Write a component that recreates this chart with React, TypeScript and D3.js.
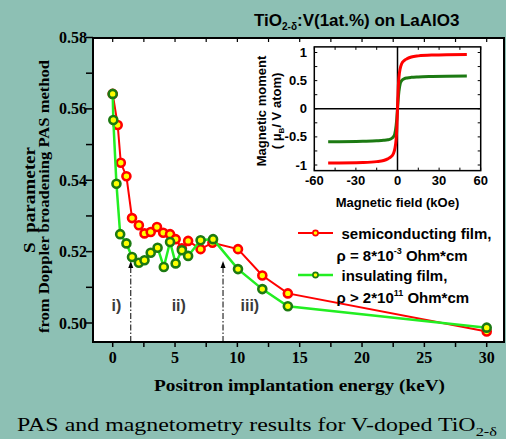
import React from 'react';
import * as d3 from 'd3';

// S parameter vs positron energy
const energySemi = [0, 0.4, 0.65, 1.1, 1.55, 2.1, 2.55, 3.05, 3.55, 4.05, 4.6, 5.05, 5.55, 6.05, 7.05, 8, 10.05, 12, 14.05, 30];
const sSemi = [0.5642, 0.5555, 0.5449, 0.5411, 0.5294, 0.5274, 0.5251, 0.5255, 0.5269, 0.5253, 0.5249, 0.5235, 0.5209, 0.523, 0.5207, 0.5225, 0.5207, 0.5133, 0.5083, 0.4976];
const energyIns = [0, 0.05, 0.3, 0.6, 1.1, 1.55, 2.1, 2.55, 3.05, 3.6, 4.1, 4.6, 5.05, 5.55, 6.05, 7.05, 8.05, 10.05, 12, 14.05, 30];
const sIns = [0.5642, 0.5569, 0.539, 0.5249, 0.5223, 0.5185, 0.5169, 0.5176, 0.5197, 0.5211, 0.5157, 0.5227, 0.5167, 0.5204, 0.5188, 0.5232, 0.5235, 0.5151, 0.5095, 0.5047, 0.4987];

// inset: magnetisation curves
const field = [-50, -25, -15, -10, -7, -5, -3, -2, -1, -0.5, 0, 0.5, 1, 2, 3, 5, 7, 10, 15, 25, 50];
const momentSemi = [-0.965, -0.955, -0.94, -0.92, -0.89, -0.86, -0.8, -0.72, -0.55, -0.35, 0, 0.35, 0.55, 0.72, 0.8, 0.86, 0.89, 0.92, 0.94, 0.955, 0.965];
const momentIns = [-0.588, -0.578, -0.57, -0.562, -0.552, -0.538, -0.5, -0.45, -0.3, -0.17, 0, 0.17, 0.3, 0.45, 0.5, 0.535, 0.548, 0.558, 0.566, 0.574, 0.583];

const xTicks = [0, 5, 10, 15, 20, 25, 30];
const yTicks = [0.5, 0.52, 0.54, 0.56, 0.58];
const insetXTicks = [-60, -30, 0, 30, 60];
const insetYTicks = [-1, -0.5, 0, 0.5, 1];
const regions = [{ label: 'i)', e: 0.3 }, { label: 'ii)', e: 5.3 }, { label: 'iii)', e: 11 }];
const arrowsAt = [1.45, 8.85];

const W = 506, H = 439;
const BG = '#8dc0b4';
const serif = '"Liberation Serif", "Times New Roman", serif';
const sans = '"Liberation Sans", Arial, sans-serif';

export default function App() {
  const fL = 93, fR = 504, fT = 38, fB = 342;
  const x = d3.scaleLinear().domain([0, 30]).range([112.7, 486.7]);
  const y = d3.scaleLinear().domain([0.5, 0.58]).range([323, 37.5]);

  const ix = d3.scaleLinear().domain([-60, 60]).range([314.3, 480.7]);
  const iy = d3.scaleLinear().domain([-1, 1]).range([165, 52.5]);
  const iL = ix(-60), iR = ix(60), iT = iy(1.1), iB = iy(-1.1);

  const semi = energySemi.map((e, i) => [e, sSemi[i]] as [number, number]);
  const ins = energyIns.map((e, i) => [e, sIns[i]] as [number, number]);
  const line = d3.line<[number, number]>().x(d => x(d[0])).y(d => y(d[1]));

  const mLine = d3.line<[number, number]>().x(d => ix(d[0])).y(d => iy(d[1])).curve(d3.curveMonotoneX);
  const mSemi = field.map((f, i) => [f, momentSemi[i]] as [number, number]);
  const mIns = field.map((f, i) => [f, momentIns[i]] as [number, number]);

  const minorX = d3.range(0, 31, 2.5);
  const minorY = d3.range(0.5, 0.5801, 0.01);
  const insMinorX = d3.range(-60, 61, 15);
  const insMinorY = d3.range(-1, 1.01, 0.25);

  return (
    <svg width={W} height={H} style={{ position: 'absolute', left: 0, top: 0, display: 'block' }}>
      <rect width={W} height={H} fill={BG} />

      {/* title */}
      <text x={254} y={26} fontFamily={sans} fontWeight="bold" fontSize={17} fill="#000">
        TiO<tspan fontSize={10} dy={4}>2-δ</tspan><tspan dy={-4}>:V(1at.%) on LaAlO3</tspan>
      </text>

      {/* main plot area */}
      <rect x={fL} y={fT} width={fR - fL} height={fB - fT} fill="#fff" stroke="#000" strokeWidth={2} />

      {/* y ticks */}
      {minorY.map(v => (
        <line key={'yt' + v} x1={fL - 7} x2={fL} y1={y(v)} y2={y(v)} stroke="#000" strokeWidth={1.5} />
      ))}
      {yTicks.map(v => (
        <text key={'yl' + v} x={87} y={y(v) + 5.5} textAnchor="end" fontFamily={serif} fontWeight="bold" fontSize={16}>
          {v.toFixed(2)}
        </text>
      ))}
      {/* x ticks */}
      {minorX.map(v => (
        <g key={'xt' + v}>
          <line x1={x(v)} x2={x(v)} y1={fB} y2={fB + 5} stroke="#000" strokeWidth={1.5} />
          <line x1={x(v)} x2={x(v)} y1={fT} y2={fT + 4} stroke="#000" strokeWidth={1.2} />
        </g>
      ))}
      {xTicks.map(v => (
        <text key={'xl' + v} x={x(v)} y={363} textAnchor="middle" fontFamily={serif} fontWeight="bold" fontSize={16}>
          {v}
        </text>
      ))}

      {/* axis titles */}
      <text x={154} y={391} textLength={291} lengthAdjust="spacingAndGlyphs" fontFamily={serif} fontWeight="bold" fontSize={17}>
        Positron implantation energy (keV)
      </text>
      <text transform="translate(35,253) rotate(-90)" textLength={106} lengthAdjust="spacingAndGlyphs"
        fontFamily={serif} fontWeight="bold" fontSize={17} style={{ whiteSpace: 'pre' }}>
        {'S  parameter'}
      </text>
      <text transform="translate(49,333) rotate(-90)" textLength={273} lengthAdjust="spacingAndGlyphs"
        fontFamily={serif} fontWeight="bold" fontSize={14}>
        from Doppler broadening PAS method
      </text>

      {/* region arrows */}
      {arrowsAt.map(e => (
        <g key={'ar' + e}>
          <line x1={x(e)} x2={x(e)} y1={fB} y2={266} stroke="#000" strokeWidth={1} strokeDasharray="6,2,1.5,2" />
          <path d={`M${x(e)},261 L${x(e) - 2.5},268 L${x(e) + 2.5},268 Z`} fill="#000" />
        </g>
      ))}
      {regions.map(r => (
        <text key={r.label} x={x(r.e)} y={311} textAnchor="middle" fontFamily={sans} fontWeight="bold" fontSize={16} fill="#3a3a3a">
          {r.label}
        </text>
      ))}

      {/* series */}
      <path d={line(semi) ?? ''} fill="none" stroke="#ff0000" strokeWidth={2} />
      {semi.map((d, i) => (
        <circle key={'s' + i} cx={x(d[0])} cy={y(d[1])} r={4} fill="#ffff00" stroke="#ff0000" strokeWidth={2.6} />
      ))}
      <path d={line(ins) ?? ''} fill="none" stroke="#22ee22" strokeWidth={2.5} />
      {ins.map((d, i) => (
        <circle key={'g' + i} cx={x(d[0])} cy={y(d[1])} r={4} fill="#ffff00" stroke="#1c7a12" strokeWidth={2.6} />
      ))}

      {/* legend */}
      <line x1={298} x2={333} y1={233} y2={233} stroke="#ff0000" strokeWidth={2} />
      <circle cx={315.5} cy={233} r={2.6} fill="#ffff00" stroke="#ff0000" strokeWidth={1.6} />
      <text x={341.5} y={238.5} fontFamily={sans} fontWeight="bold" fontSize={15}>semiconducting film,</text>
      <text x={336.5} y={260.5} fontFamily={sans} fontWeight="bold" fontSize={15}>
        ρ = 8*10<tspan fontSize={9} dy={-7}>-3</tspan><tspan dy={7}> Ohm*cm</tspan>
      </text>
      <line x1={298} x2={333} y1={275} y2={275} stroke="#22ee22" strokeWidth={2.5} />
      <circle cx={315.5} cy={275} r={2.6} fill="#ffff00" stroke="#1c7a12" strokeWidth={1.6} />
      <text x={341.5} y={281} fontFamily={sans} fontWeight="bold" fontSize={15}>insulating film,</text>
      <text x={336.5} y={303} fontFamily={sans} fontWeight="bold" fontSize={15}>
        ρ &gt; 2*10<tspan fontSize={9} dy={-7}>11</tspan><tspan dy={7}> Ohm*cm</tspan>
      </text>

      {/* inset */}
      <rect x={iL} y={iT} width={iR - iL} height={iB - iT} fill="#fff" stroke="#000" strokeWidth={1.5} />
      {insMinorX.map(v => (
        <g key={'ixt' + v}>
          <line x1={ix(v)} x2={ix(v)} y1={iB} y2={iB - 3} stroke="#000" strokeWidth={1} />
          <line x1={ix(v)} x2={ix(v)} y1={iT} y2={iT + 3} stroke="#000" strokeWidth={1} />
        </g>
      ))}
      {insMinorY.map(v => (
        <g key={'iyt' + v}>
          <line x1={iL} x2={iL + 3} y1={iy(v)} y2={iy(v)} stroke="#000" strokeWidth={1} />
          <line x1={iR} x2={iR - 3} y1={iy(v)} y2={iy(v)} stroke="#000" strokeWidth={1} />
        </g>
      ))}
      <line x1={iL} x2={iR} y1={iy(0)} y2={iy(0)} stroke="#000" strokeWidth={1.5} />
      <line x1={ix(0)} x2={ix(0)} y1={iT} y2={iB} stroke="#000" strokeWidth={1.5} />
      <path d={mLine(mIns) ?? ''} fill="none" stroke="#1c7a12" strokeWidth={3} />
      <path d={mLine(mSemi) ?? ''} fill="none" stroke="#ff0000" strokeWidth={3} />
      {insetXTicks.map(v => (
        <text key={'ixl' + v} x={ix(v)} y={185} textAnchor="middle" fontFamily={sans} fontWeight="bold" fontSize={13}>
          {v}
        </text>
      ))}
      {insetYTicks.map(v => (
        <text key={'iyl' + v} x={307} y={iy(v) + 4.5} textAnchor="end" fontFamily={sans} fontWeight="bold" fontSize={13}>
          {v}
        </text>
      ))}
      <text x={397.5} y={207} textAnchor="middle" fontFamily={sans} fontWeight="bold" fontSize={13}>
        Magnetic field (kOe)
      </text>
      <text transform="translate(266,111) rotate(-90)" textAnchor="middle" fontFamily={sans} fontWeight="bold" fontSize={13}>
        Magnetic moment
      </text>
      <text transform="translate(281,111) rotate(-90)" textAnchor="middle" fontFamily={sans} fontWeight="bold" fontSize={13}>
        ( μ<tspan fontSize={8} dy={3}>B</tspan><tspan dy={-3}>/ V atom)</tspan>
      </text>

      {/* caption */}
      <text x={17} y={431} textLength={480} lengthAdjust="spacingAndGlyphs" fontFamily={serif} fontSize={19}>
        PAS and magnetometry results for V-doped TiO<tspan fontSize={13} dy={5}>2-δ</tspan>
      </text>
    </svg>
  );
}
